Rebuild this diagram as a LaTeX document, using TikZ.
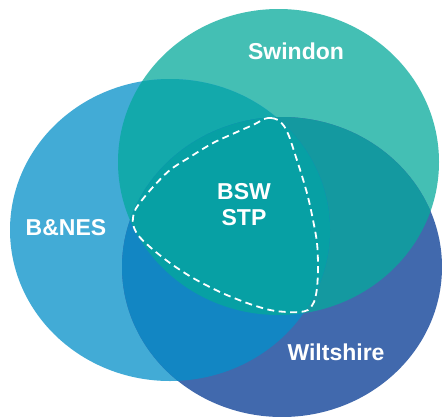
\documentclass[tikz,border=0pt]{standalone}
\usepackage{fontspec}
\setmainfont{Liberation Sans}
\definecolor{cS}{HTML}{44BFB4}
\definecolor{cB}{HTML}{42ABD6}
\definecolor{cW}{HTML}{4169AD}
\definecolor{cBS}{HTML}{13A9AB}
\definecolor{cSW}{HTML}{1499A0}
\definecolor{cBW}{HTML}{1286C3}
\definecolor{cBSW}{HTML}{07A0A4}
\tikzset{
  lbl/.style={text=white,font=\bfseries\fontsize{23}{26}\selectfont,align=center,inner sep=0pt},
  stpline/.style={draw=white,line width=1.8pt,dash pattern=on 7pt off 4.5pt}
}
\def\pS{(278.5,162) ellipse [x radius=160.5, y radius=153]}
\def\pB{(170,230) ellipse [x radius=160, y radius=151]}
\def\pW{(282,267) ellipse [x radius=160, y radius=150]}
\begin{document}
\begin{tikzpicture}[x=1pt,y=-1pt]
\useasboundingbox (0,0) rectangle (442,416);
\fill[white] (0,0) rectangle (442,416);
\fill[cS] \pS;
\fill[cB] \pB;
\fill[cW] \pW;
\begin{scope}\clip \pS; \fill[cBS] \pB; \end{scope}
\begin{scope}\clip \pS; \fill[cSW] \pW; \end{scope}
\begin{scope}\clip \pB; \fill[cBW] \pW; \end{scope}
\begin{scope}\clip \pS; \clip \pB; \fill[cBSW] \pW; \end{scope}
\draw[stpline] plot[smooth cycle, tension=0.55] coordinates {
 (264,119) (271,118) (278,120) (284,126) (289,136) (294,151) (302,176) (308,197) (313,220) (317,243)
 (318,267) (317,288) (314,302) (308,310) (299,312) (287,312) (270,310) (247,303) (220,292)
 (193,278) (170,263) (150,247) (138,235) (133,224) (134,213) (139,204) (153,187) (170,170)
 (190,157) (213,143) (237,132) (255,124)};
\node[lbl] (swindon) at (296,51) {Swindon};
\node[lbl] (banes) at (66,228) {B\&NES};
\node[lbl] (wilts) at (336,352) {Wiltshire};
\node[lbl] (bsw) at (244,205) {BSW\\STP};
\end{tikzpicture}
\end{document}
